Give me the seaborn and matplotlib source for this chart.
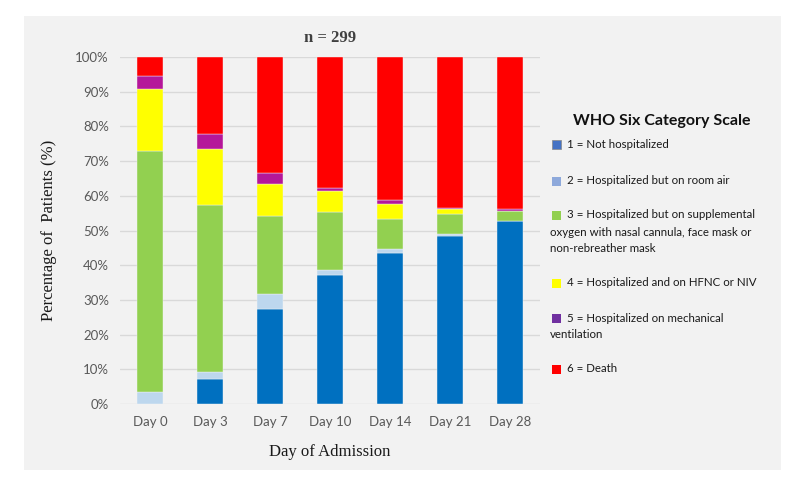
import matplotlib
matplotlib.use("Agg")
import matplotlib.pyplot as plt
from matplotlib.patches import Rectangle
import numpy as np
import pandas as pd
import seaborn as sns

# Data (percent of patients per WHO category)
days = ["Day 0", "Day 3", "Day 7", "Day 10", "Day 14", "Day 21", "Day 28"]
cat1 = [0.0, 7.2, 27.4, 37.3, 43.5, 48.5, 52.8]   # Not hospitalized
cat2 = [3.4, 2.0, 4.3, 1.3, 1.1, 0.4, 0.0]        # room air
cat3 = [69.6, 48.1, 22.5, 16.8, 8.8, 5.8, 2.7]    # supplemental oxygen
cat4 = [17.9, 16.2, 9.3, 5.9, 4.1, 1.4, 0.1]      # HFNC / NIV
cat5 = [3.6, 4.4, 3.1, 1.0, 1.3, 0.5, 0.7]        # mechanical ventilation
cat6 = [5.5, 22.1, 33.4, 37.7, 41.2, 43.4, 43.7]  # death

bar_colors = ["#0070C0", "#BDD7EE", "#92D050", "#FFFF00", "#B5179A", "#FF0000"]
legend_colors = ["#4472C4", "#8EA9DB", "#92D050", "#FFFF00", "#7030A0", "#FF0000"]
legend_labels = [
    ["1 = Not hospitalized"],
    ["2 = Hospitalized but on room air"],
    ["3 = Hospitalized but on supplemental", "oxygen with nasal cannula, face mask or", "non-rebreather mask"],
    ["4 = Hospitalized and on HFNC or NIV"],
    ["5 = Hospitalized on mechanical", "ventilation"],
    ["6 = Death"],
]

series = [cat1, cat2, cat3, cat4, cat5, cat6]

sns.set_style("white")
plt.rcParams["font.family"] = ["Lato", "DejaVu Sans"]

fig = plt.figure(figsize=(8, 4.91), dpi=100)
fig.patches.append(Rectangle((24 / 800, 21 / 491), 757 / 800, 454 / 491,
                             transform=fig.transFigure, facecolor="#F2F2F2",
                             edgecolor="none", zorder=-10))

ax = fig.add_axes([120 / 800, 87 / 491, 420 / 800, 347 / 491])
ax.set_facecolor("none")

bottom = np.zeros(len(days))
for vals, col in zip(series, bar_colors):
    df = pd.DataFrame({"day": days, "pct": vals})
    sns.barplot(data=df, x="day", y="pct", color=col, bottom=bottom,
                width=0.42, ax=ax, saturation=1, zorder=3,
                edgecolor="#f4f4f4", linewidth=0.3)
    bottom = bottom + np.array(vals)

ax.set_ylim(0, 100)
ax.set_xlim(-0.5, len(days) - 0.5)
ax.set_yticks(range(0, 101, 10))
ax.set_yticklabels([f"{v}%" for v in range(0, 101, 10)])
ax.yaxis.grid(True, color="#D9D9D9", linewidth=1, zorder=0)
ax.set_axisbelow(True)
for s in ax.spines.values():
    s.set_visible(False)
ax.tick_params(axis="both", length=0, labelsize=9.5, colors="#595959", pad=8)
ax.tick_params(axis="x", pad=9)

ax.set_xlabel("Day of Admission", family="Liberation Serif", fontsize=12,
              color="#1a1a1a", labelpad=11)
ax.set_ylabel("Percentage of  Patients (%)", family="Liberation Serif",
              fontsize=12, color="#1a1a1a", labelpad=13)
ax.set_title("n = 299", family="Liberation Serif", fontsize=12,
             fontweight="bold", color="#404040", pad=11)

# legend drawn by hand (wrapped lines hang under the swatch)
fig.text(662 / 800, 1 - 121 / 491, "WHO Six Category Scale", ha="center",
         va="center", fontsize=11.5, fontweight="bold", color="#111111")
line_h = 17
entry_y = [144, 181, 215, 283, 318, 369]
for y0, col, lines in zip(entry_y, legend_colors, legend_labels):
    fig.patches.append(Rectangle((552 / 800, 1 - (y0 + 4.5) / 491), 9 / 800, 9 / 491,
                                 transform=fig.transFigure, facecolor=col,
                                 edgecolor="#888888" if col == "#4472C4" else "none",
                                 linewidth=0.5, zorder=2))
    for i, t in enumerate(lines):
        x = 567 if i == 0 else 550
        fig.text(x / 800, 1 - (y0 + i * line_h) / 491, t, ha="left", va="center",
                 fontsize=8.3, color="#1a1a1a")

fig.savefig("out.png", dpi=100)
